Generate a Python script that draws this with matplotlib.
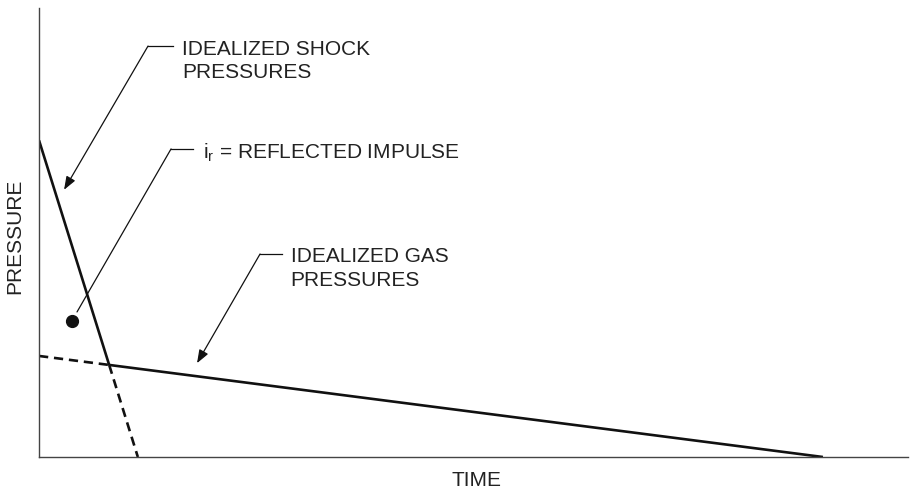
import matplotlib.pyplot as plt

plt.rcParams['font.family'] = ['Liberation Sans', 'DejaVu Sans']
plt.rcParams['mathtext.default'] = 'regular'

# idealized pressure-time history (arbitrary units)
shock_t = [0.0, 0.807]
shock_p = [7.05, 2.05]
shock_tail_t = [0.807, 1.137]
shock_tail_p = [2.05, 0.0]

gas_t = [0.807, 9.02]
gas_p = [2.05, 0.0]
gas_head_t = [0.0, 0.807]
gas_head_p = [2.25, 2.05]

impulse_t = [0.38]
impulse_p = [3.03]

ink = '#111111'
txt = '#222222'

fig = plt.figure(figsize=(9.1, 4.93), dpi=100)
ax = fig.add_axes([0.0429, 0.073, 0.955, 0.911])

ax.plot(shock_t, shock_p, color=ink, lw=1.9, solid_capstyle='butt')
ax.plot(shock_tail_t, shock_tail_p, color=ink, lw=1.9, ls=(0, (3.5, 2.2)))
ax.plot(gas_t, gas_p, color=ink, lw=1.9, solid_capstyle='butt')
ax.plot(gas_head_t, gas_head_p, color=ink, lw=1.9, ls=(0, (3.5, 2.2)))
ax.plot(impulse_t, impulse_p, 'o', color=ink, ms=8.5)

ax.set_xlim(0, 10)
ax.set_ylim(0, 10)
ax.set_xticks([])
ax.set_yticks([])
for side in ['top', 'right']:
    ax.spines[side].set_visible(False)
for side in ['left', 'bottom']:
    ax.spines[side].set_color('#444444')
    ax.spines[side].set_linewidth(1.0)

fig.text(477 / 910, 1 - 480 / 493, 'TIME', fontsize=15, color=txt,
         ha='center', va='center')
fig.text(15 / 910, 1 - 236 / 493, 'PRESSURE', fontsize=15, color=txt,
         ha='center', va='center', rotation=90)

# callouts: (arrow tip, bend, end of horizontal leader, last-line baseline, text, arrowhead)
callouts = [
    ((0.288, 5.95), (1.254, 9.15), (1.542, 9.15), (1.643, 8.43),
     'IDEALIZED SHOCK\nPRESSURES', True),
    ((0.437, 3.23), (1.519, 6.86), (1.772, 6.86), (1.887, 6.65),
     'i$_r$ = REFLECTED IMPULSE', False),
    ((1.818, 2.09), (2.543, 4.52), (2.796, 4.52), (2.896, 3.81),
     'IDEALIZED GAS\nPRESSURES', True),
]
for tip, bend, end, pos, label, head in callouts:
    ax.plot([bend[0], end[0]], [bend[1], end[1]], color=ink, lw=0.9)
    style = '-|>,head_length=0.8,head_width=0.3' if head else '-'
    ax.annotate('', xy=tip, xytext=bend,
                arrowprops=dict(arrowstyle=style, color=ink, lw=0.9,
                                shrinkA=0, shrinkB=0))
    ax.text(pos[0], pos[1], label, fontsize=15, color=txt,
            ha='left', va='baseline', linespacing=1.3)

fig.savefig('out.png', dpi=100)
